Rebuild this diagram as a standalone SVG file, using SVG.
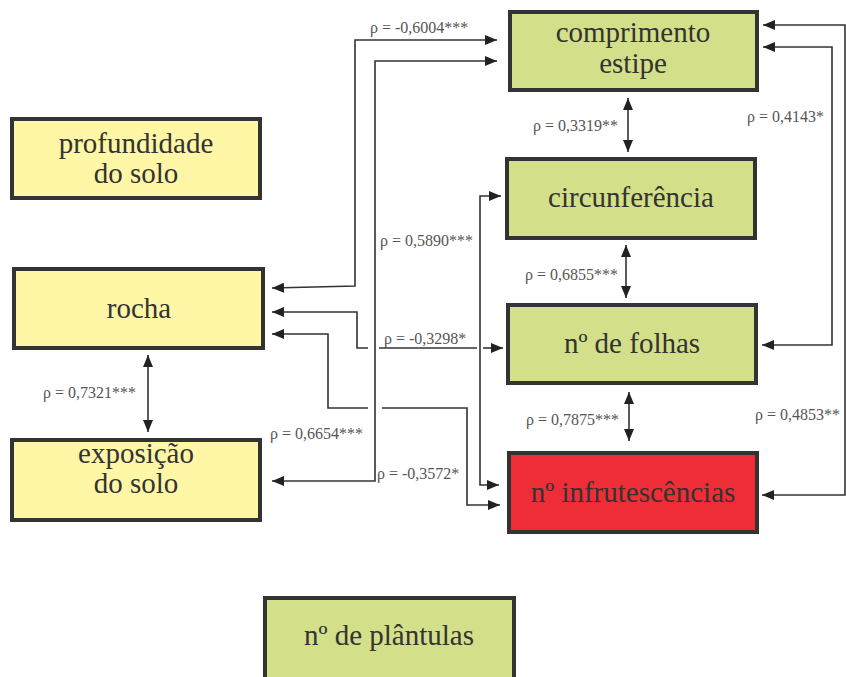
<svg xmlns="http://www.w3.org/2000/svg" width="846" height="677" viewBox="0 0 846 677">
<style>
.box{stroke:#333;stroke-width:4}
.y{fill:#FFF6A6}
.g{fill:#D3DF89}
.r{fill:#EE2D36}
.t{font-family:"Liberation Serif","Times New Roman",serif;font-size:29px;fill:#333;text-anchor:middle}
.l{font-family:"Liberation Serif","Times New Roman",serif;font-size:16px;fill:#555}
.c{fill:none;stroke:#333;stroke-width:1.6;marker-start:url(#ah);marker-end:url(#ah)}
.n{fill:none;stroke:#333;stroke-width:1.6}
</style>
<defs>
<marker id="ah" markerUnits="userSpaceOnUse" markerWidth="12" markerHeight="10" refX="12" refY="5" orient="auto-start-reverse">
<path d="M0,0 L12,5 L0,10 z" fill="#222"/>
</marker>
</defs>
<rect width="846" height="677" fill="#fff"/>
<g id="comprimento">
<rect class="box g" x="510" y="12" width="247" height="78"/>
<text class="t" x="633" y="42">comprimento</text>
<text class="t" x="633" y="73">estipe</text>
</g>
<g id="circunferencia">
<rect class="box g" x="507" y="159" width="248" height="79"/>
<text class="t" x="631" y="207">circunferência</text>
</g>
<g id="folhas">
<rect class="box g" x="508" y="305" width="248" height="78"/>
<text class="t" x="632" y="353">nº de folhas</text>
</g>
<g id="infrutescencias">
<rect class="box r" x="509" y="453" width="248" height="79"/>
<text class="t" x="633" y="502">nº infrutescências</text>
</g>
<g id="plantulas">
<rect class="box g" x="265" y="598" width="249" height="100"/>
<text class="t" x="389" y="645">nº de plântulas</text>
</g>
<g id="profundidade">
<rect class="box y" x="12" y="119" width="248" height="79"/>
<text class="t" x="136" y="153">profundidade</text>
<text class="t" x="136" y="183">do solo</text>
</g>
<g id="rocha">
<rect class="box y" x="14" y="269" width="249" height="79"/>
<text class="t" x="139" y="318">rocha</text>
</g>
<g id="exposicao">
<rect class="box y" x="12" y="440" width="248" height="80"/>
<text class="t" x="136" y="463">exposição</text>
<text class="t" x="136" y="493">do solo</text>
</g>
<g id="connectors">
<path class="c" d="M272,288 L355,286 L355,40 L497,40"/>
<path class="c" d="M272,481 L375,481 L375,61 L497,61"/>
<path class="n" d="M272,312 L357,312 L357,348 L368,348" marker-start="url(#ah)"/>
<path class="n" d="M379,348 L477,348"/>
<path class="n" d="M483,348 L503,348" marker-end="url(#ah)"/>
<path class="n" d="M272,334 L328,334 L328,408 L368,408" marker-start="url(#ah)"/>
<path class="n" d="M382,408 L467,408 L467,505 L500,505" marker-end="url(#ah)"/>
<path class="c" d="M501,196 L480,196 L480,485 L499,485"/>
<path class="c" d="M763,47 L832,47 L832,345 L762,345"/>
<path class="c" d="M763,25 L845,25 L845,495 L762,495"/>
<path class="c" d="M628,98 L628,152"/>
<path class="c" d="M626,245 L626,298"/>
<path class="c" d="M629,392 L629,441"/>
<path class="c" d="M148,355 L148,432"/>
</g>
<g id="labels">
<text class="l" x="370" y="33">ρ = -0,6004***</text>
<text class="l" x="380" y="246">ρ = 0,5890***</text>
<text class="l" x="384" y="344">ρ = -0,3298*</text>
<text class="l" x="270" y="439">ρ = 0,6654***</text>
<text class="l" x="377" y="479">ρ = -0,3572*</text>
<text class="l" x="533" y="131">ρ = 0,3319**</text>
<text class="l" x="747" y="122">ρ = 0,4143*</text>
<text class="l" x="525" y="280">ρ = 0,6855***</text>
<text class="l" x="526" y="425">ρ = 0,7875***</text>
<text class="l" x="755" y="420">ρ = 0,4853**</text>
<text class="l" x="43" y="398">ρ = 0,7321***</text>
</g>
</svg>
